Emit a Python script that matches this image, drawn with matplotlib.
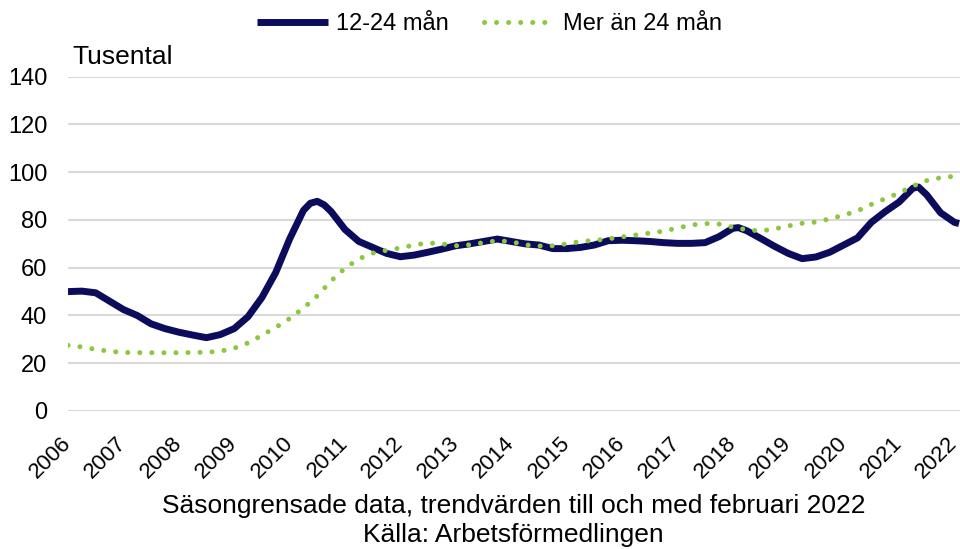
import matplotlib
matplotlib.use("Agg")
import matplotlib.pyplot as plt

plt.rcParams["font.family"] = ["Liberation Sans", "DejaVu Sans"]

# 12-24 mån (decimal year, tusental)
t_short = [2006.0, 2006.25, 2006.5, 2006.75, 2007.0, 2007.25, 2007.5, 2007.75,
           2008.0, 2008.25, 2008.5, 2008.75, 2009.0, 2009.25, 2009.5, 2009.75,
           2010.0, 2010.25, 2010.375, 2010.5, 2010.625, 2010.75, 2011.0, 2011.25,
           2011.5, 2011.75,
           2012.0, 2012.25, 2012.5, 2012.75, 2013.0, 2013.25, 2013.5, 2013.75,
           2014.0, 2014.25, 2014.5, 2014.75, 2015.0, 2015.25, 2015.5, 2015.75,
           2016.0, 2016.25, 2016.5, 2016.75, 2017.0, 2017.25, 2017.5, 2017.75,
           2018.0, 2018.1, 2018.25, 2018.5, 2018.75, 2019.0, 2019.25, 2019.5,
           2019.75, 2020.0, 2020.25, 2020.5, 2020.75, 2021.0, 2021.25, 2021.35,
           2021.5, 2021.75, 2022.0, 2022.083]
v_short = [50, 50.2, 49.5, 46, 42.5, 40, 36.5, 34.5,
           33, 31.8, 30.7, 32, 34.5, 39.5, 47.5, 58,
           72, 84, 87, 87.8, 86.3, 83.5, 76, 71,
           68.5, 66,
           64.6, 65.3, 66.5, 67.8, 69.2, 70, 71, 72,
           71, 70, 69.5, 68, 68, 68.5, 69.5, 71.3,
           71.5, 71.3, 71, 70.5, 70.2, 70.2, 70.5, 73,
           76.5, 76.8, 75.5, 72.3, 69, 66, 63.8, 64.5,
           66.5, 69.5, 72.5, 79, 83.5, 87.5, 93.3, 93.8,
           90.5, 83, 79, 78.5]

# Mer än 24 mån
t_long = [2006.0, 2006.25, 2006.5, 2006.75, 2007.0, 2007.5, 2008.0, 2008.5,
          2008.75, 2009.0, 2009.25, 2009.5, 2009.75, 2010.0, 2010.25, 2010.5,
          2010.75, 2011.0, 2011.25, 2011.5, 2011.75, 2012.0, 2012.25, 2012.5,
          2012.75, 2013.0, 2013.25, 2013.5, 2013.75, 2014.0, 2014.25, 2014.5,
          2014.75, 2015.0, 2015.25, 2015.5, 2015.75, 2016.0, 2016.25, 2016.5,
          2016.75, 2017.0, 2017.25, 2017.5, 2017.75, 2018.0, 2018.25, 2018.5,
          2018.75, 2019.0, 2019.25, 2019.5, 2019.75, 2020.0, 2020.25, 2020.5,
          2020.75, 2021.0, 2021.25, 2021.5, 2021.75, 2022.0, 2022.083]
v_long = [27.5, 26.8, 25.8, 25, 24.5, 24.4, 24.4, 24.6,
          25, 26.3, 28.5, 31.7, 35, 38.7, 43.1, 48.2,
          54.5, 59.8, 63.7, 66.1, 67.3, 68.3, 69.5, 70.4,
          70, 69.2, 69.6, 70.5, 71.3, 70.9, 69.6, 69.1,
          69.2, 70, 71, 71.4, 72.1, 72.9, 73.7, 74.5,
          75.3, 76.6, 77.9, 78.5, 78.3, 77, 75.9, 75.4,
          76.2, 77.5, 78.6, 79.1, 80.5, 82, 83.8, 86.5,
          88.9, 91.3, 94.2, 96.5, 97.7, 98.3, 98.5]

years = list(range(2006, 2023))

fig = plt.figure(figsize=(9.6, 5.49), dpi=100)
ax = fig.add_axes([0.0708, 0.2514, 0.9292, 0.6089])

ax.plot(t_short, v_short, color="#0c0c5c", lw=5, solid_capstyle="butt",
        solid_joinstyle="round", label="12-24 mån", zorder=3)
ax.plot(t_long, v_long, color="#8dc63f", lw=3.6, ls=(0, (0.01, 2.4)),
        dash_capstyle="round", label="Mer än 24 mån", zorder=4)

ax.set_xlim(2006, 2022.1)
ax.set_ylim(0, 140)
ax.set_yticks(range(0, 141, 20))
ax.set_xticks(years)
ax.set_xticklabels([str(y) for y in years], rotation=45, ha="right",
                   va="center", rotation_mode="anchor", fontsize=16)
ax.tick_params(axis="both", length=0)
ax.tick_params(axis="y", pad=15, labelsize=17)
ax.tick_params(axis="x", pad=21)
ax.grid(axis="y", color="#d9d9d9", lw=1.5)
ax.set_axisbelow(True)
for s in ax.spines.values():
    s.set_visible(False)

fig.text(0.075, 0.896, "Tusental", fontsize=19, va="center")
fig.legend(loc="center", bbox_to_anchor=(0.51, 0.956), ncol=2, frameon=False,
           fontsize=17, handlelength=3.0, handletextpad=0.35, columnspacing=1.5)

fig.text(0.535, 0.078, "Säsongrensade data, trendvärden till och med februari 2022",
         fontsize=19, ha="center", va="center")
fig.text(0.535, 0.025, "Källa: Arbetsförmedlingen", fontsize=19,
         ha="center", va="center")

fig.savefig("out.png", dpi=100)
